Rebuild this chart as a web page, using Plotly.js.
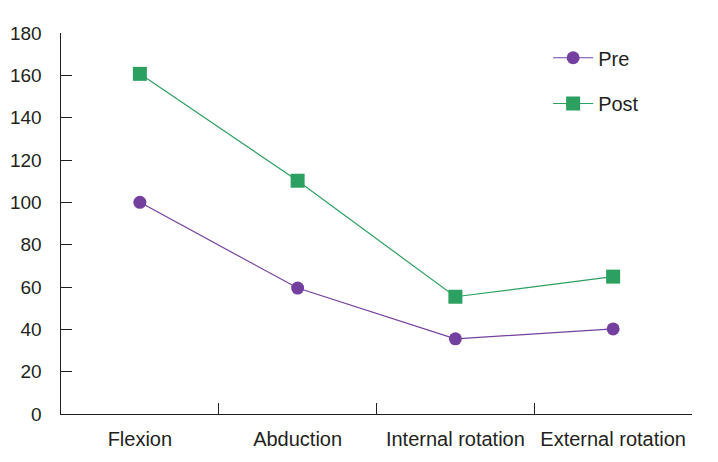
<!DOCTYPE html>
<html>
<head>
<meta charset="utf-8">
<script src="https://cdn.plot.ly/plotly-3.0.1.min.js"></script>
<style>
  html, body { margin: 0; padding: 0; background: #fff; }
  #chart { width: 718px; height: 462px; }
</style>
</head>
<body>
<div id="chart"></div>
<script>
// range of motion, before and after
const motions = ["Flexion", "Abduction", "Internal rotation", "External rotation"];
const preValues = [100, 59.5, 35.5, 40.2];
const postValues = [160.7, 110.2, 55.4, 64.9];
const yTicks = [0, 20, 40, 60, 80, 100, 120, 140, 160, 180];

const fontFamily = "Liberation Sans, Arial, sans-serif";
const ink = "#231f20";

const preTrace = {
  x: motions,
  y: preValues,
  name: "Pre",
  type: "scatter",
  mode: "lines+markers",
  line: { color: "#7440a0", width: 1.2 },
  marker: { color: "#7440a0", symbol: "circle", size: 13 },
  legend: "legend"
};

const postTrace = {
  x: motions,
  y: postValues,
  name: "Post",
  type: "scatter",
  mode: "lines+markers",
  line: { color: "#2ca060", width: 1.2 },
  marker: { color: "#2ca060", symbol: "square", size: 14 },
  legend: "legend2"
};

const legendStyle = {
  xanchor: "left",
  yanchor: "middle",
  font: { family: fontFamily, size: 20, color: ink },
  bgcolor: "rgba(0,0,0,0)",
  itemwidth: 40
};

const layout = {
  width: 718,
  height: 462,
  margin: { l: 61, r: 26, t: 33, b: 48 },
  paper_bgcolor: "#fff",
  plot_bgcolor: "#fff",
  font: { family: fontFamily, size: 19, color: ink },
  xaxis: {
    type: "category",
    range: [-0.5, 3.5],
    showgrid: false,
    zeroline: false,
    showline: true,
    linecolor: ink,
    linewidth: 1.3,
    ticks: "inside",
    tickson: "boundaries",
    ticklen: 11,
    tickcolor: ink,
    tickwidth: 1,
    tickangle: 0,
    ticklabelstandoff: 7,
    tickfont: { family: fontFamily, size: 20, color: ink }
  },
  yaxis: {
    range: [0, 180],
    tickvals: yTicks,
    showgrid: false,
    zeroline: false,
    showline: true,
    linecolor: ink,
    linewidth: 1.5,
    ticks: "inside",
    ticklen: 11,
    tickcolor: ink,
    tickwidth: 1,
    ticklabelstandoff: 14,
    tickfont: { family: fontFamily, size: 19, color: ink }
  },
  showlegend: true,
  legend: Object.assign({ x: 0.772, y: 0.935 }, legendStyle),
  legend2: Object.assign({ x: 0.772, y: 0.815 }, legendStyle)
};

Plotly.newPlot("chart", [preTrace, postTrace], layout, { displayModeBar: false, staticPlot: true });
</script>
</body>
</html>
